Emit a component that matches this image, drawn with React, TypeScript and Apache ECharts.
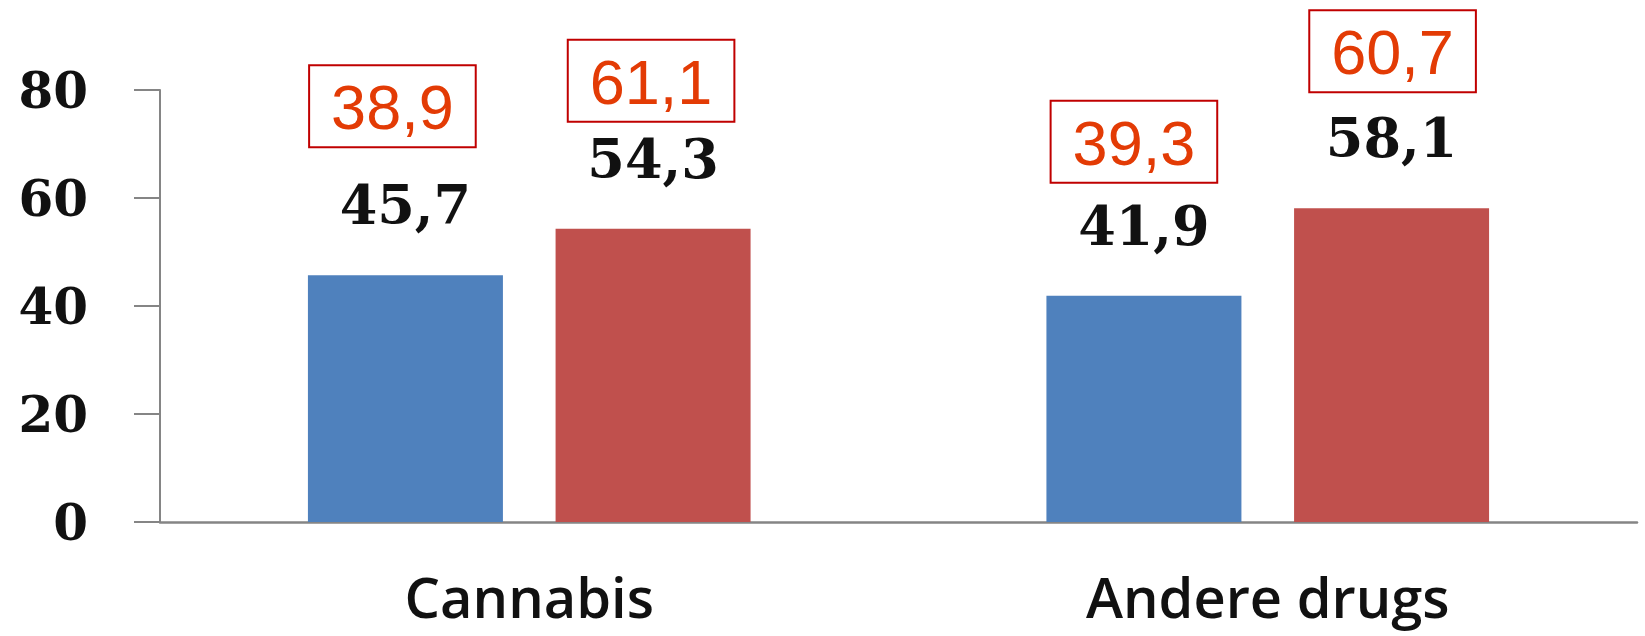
import React, { useEffect, useRef } from "react";
import * as echarts from "echarts";

const categories = ["Cannabis", "Andere drugs"];
const blueValues = [45.7, 41.9];
const redValues = [54.3, 58.1];
const blueBoxValues = [38.9, 39.3];
const redBoxValues = [61.1, 60.7];
const yTicks = { min: 0, max: 80, interval: 20 };

// style nudges for the boxed annotations [dx, dy]
const blueBoxNudges = [[-13, -15], [-10, 0]];
const redBoxNudges = [[-2, 6], [1, -3]];

const fmt = (v: number) => v.toFixed(1).replace(".", ",");

const BAR_WIDTH = 195;
const BAR_GAP = "27%";

const blackLabel = {
  show: true,
  position: "top",
  distance: 43,
  fontFamily: "DejaVu Serif",
  fontWeight: "bold",
  fontSize: 54,
  lineHeight: 54,
  color: "#111",
  formatter: (p: any) => fmt(p.value),
};

const boxLabelBase = {
  show: true,
  position: "top",
  distance: 114,
  fontFamily: "Liberation Sans",
  fontSize: 63,
  lineHeight: 66,
  color: "#E33B05",
  backgroundColor: "#ffffff",
  borderColor: "#C00000",
  borderWidth: 2,
  padding: [8, 21, 6, 21],
};

export default function App() {
  const ref = useRef<HTMLDivElement>(null);
  useEffect(() => {
    if (!ref.current) return;
    const chart = echarts.init(ref.current, undefined, { renderer: "svg" });
    chart.setOption({
      animation: false,
      backgroundColor: "#ffffff",
      grid: { left: 160, right: 8, top: 90, bottom: 114, containLabel: false },
      xAxis: [
        {
          type: "category",
          data: categories,
          boundaryGap: true,
          axisLine: { show: true, lineStyle: { color: "#858585", width: 2.5 } },
          axisTick: { show: false },
          axisLabel: {
            margin: 46,
            fontFamily: "Open Sans",
            fontWeight: 600,
            fontSize: 56,
            lineHeight: 56,
            color: "#111",
          },
          splitLine: { show: false },
        },
        {
          type: "category",
          data: categories,
          show: false,
          position: "bottom",
        },
      ],
      yAxis: {
        type: "value",
        min: yTicks.min,
        max: yTicks.max,
        interval: yTicks.interval,
        axisLine: { show: true, lineStyle: { color: "#858585", width: 2 } },
        axisTick: { show: true, length: 26, lineStyle: { color: "#858585", width: 2 } },
        axisLabel: {
          margin: 72,
          fontFamily: "DejaVu Serif",
          fontWeight: "bold",
          fontSize: 50,
          color: "#111",
        },
        splitLine: { show: false },
      },
      series: [
        {
          type: "bar",
          name: "blue",
          xAxisIndex: 0,
          data: blueValues,
          barWidth: BAR_WIDTH,
          barGap: BAR_GAP,
          itemStyle: { color: "#4F81BD" },
          label: blackLabel,
        },
        {
          type: "bar",
          name: "red",
          xAxisIndex: 0,
          data: redValues,
          barWidth: BAR_WIDTH,
          barGap: BAR_GAP,
          itemStyle: { color: "#C0504D" },
          label: blackLabel,
        },
        {
          type: "bar",
          name: "blueBox",
          xAxisIndex: 1,
          data: blueValues.map((v, i) => ({
            value: v,
            label: { ...boxLabelBase, offset: blueBoxNudges[i], formatter: fmt(blueBoxValues[i]) },
          })),
          barWidth: BAR_WIDTH,
          barGap: BAR_GAP,
          itemStyle: { color: "rgba(0,0,0,0)" },
          silent: true,
          z: 5,
        },
        {
          type: "bar",
          name: "redBox",
          xAxisIndex: 1,
          data: redValues.map((v, i) => ({
            value: v,
            label: { ...boxLabelBase, offset: redBoxNudges[i], formatter: fmt(redBoxValues[i]) },
          })),
          barWidth: BAR_WIDTH,
          barGap: BAR_GAP,
          itemStyle: { color: "rgba(0,0,0,0)" },
          silent: true,
          z: 5,
        },
      ],
    });
    return () => chart.dispose();
  }, []);
  return (
    <div
      ref={ref}
      style={{ position: "fixed", left: 0, top: 0, width: 1645, height: 636, background: "#fff" }}
    />
  );
}
